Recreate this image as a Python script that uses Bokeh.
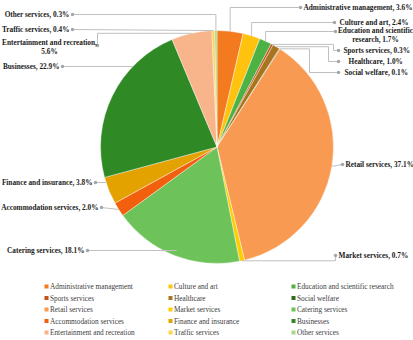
import math
from bokeh.plotting import figure
from bokeh.models import Range1d
from bokeh.core.properties import value
from bokeh.embed import file_html
from bokeh.resources import INLINE

# ---------------- data ----------------
categories = ["Administrative management", "Culture and art", "Education and scientific research",
              "Sports services", "Healthcare", "Social welfare", "Retail services", "Market services",
              "Catering services", "Accommodation services", "Finance and insurance", "Businesses",
              "Entertainment and recreation", "Traffic services", "Other services"]
shares = [3.6, 2.4, 1.7, 0.3, 1.0, 0.1, 37.1, 0.7, 18.1, 2.0, 3.8, 22.9, 5.6, 0.4, 0.3]
colors = ["#F47A20", "#FFC20E", "#4DB244", "#C4501C", "#A8741E", "#2C6E1E", "#F99A52", "#FFCC00",
          "#6DC35A", "#F2600E", "#E3A200", "#2F8A26", "#F8B48A", "#FFD550", "#A4DA8A"]

# ---------------- layout (page pixel coords) ----------------
CX, CY, R = 216.5, 146.5, 116.5
W, H = 413, 340
FONT = value("Liberation Serif")

label_layout = {
    0:  dict(dot=(300, 7),   tx=303, align="left",   lines=None, mode="mid", elbow=[("sx", 7)]),
    1:  dict(dot=(334, 22),  tx=339, align="left",   lines=None, mode="mid", elbow=[("sx", 22)]),
    2:  dict(dot=(335, 31),  tx=375, align="center", lines=[("Education and scientific", 30), ("research, {v}%", 39)], mode="mid", elbow=[("sx", 31)]),
    3:  dict(dot=(338, 50),  tx=343, align="left",   lines=None, mode="mid", elbow=[(333, "sy"), (333, 50)]),
    4:  dict(dot=(338, 61),  tx=348, align="left",   lines=None, mode="mid", elbow=[(328, "sy"), (328, 61)]),
    5:  dict(dot=(338, 72),  tx=344, align="left",   lines=None, mode="mid", elbow=[(309, "sy"), (309, 72)]),
    6:  dict(dot=(342, 164), tx=345, align="left",   lines=None, mode="mid", elbow=[]),
    7:  dict(dot=(335, 255), tx=338, align="left",   lines=None, mode="mid", elbow=[(335, "sy")]),
    8:  dict(dot=(87, 250),  tx=84,  align="right",  lines=None, mode="ray", elbow=[]),
    9:  dict(dot=(101, 207), tx=98,  align="right",  lines=None, mode="mid", elbow=[]),
    10: dict(dot=(95, 182),  tx=92,  align="right",  lines=None, mode="y", elbow=[]),
    11: dict(dot=(62, 66),   tx=59,  align="right",  lines=None, mode="y", elbow=[]),
    12: dict(dot=(97, 45),   tx=49,  align="center", lines=[("Entertainment and recreation,", 42), ("{v}%", 51)], mode="mid", elbow=[(97, "sy")]),
    13: dict(dot=(72, 29),   tx=69,  align="right",  lines=None, mode="mid", elbow=[]),
    14: dict(dot=(72, 14),   tx=69,  align="right",  lines=None, mode="mid", elbow=[("sx", 14)]),
}

legend_cols_x = [46, 170, 293]
legend_rows_y = [286, 297.5, 309, 320.5, 332]

# ---------------- figure ----------------
p = figure(width=W, height=H, x_range=Range1d(0, W), y_range=Range1d(-H, 0),
           output_backend="svg", toolbar_location=None, min_border=0,
           x_axis_location=None, y_axis_location=None)
p.grid.visible = False
p.outline_line_color = None
p.background_fill_color = "white"
p.border_fill_color = "white"

total = sum(shares)
cum = 0.0
starts, ends, mids = [], [], []
for s in shares:
    a0 = cum / total * 2 * math.pi
    cum += s
    a1 = cum / total * 2 * math.pi
    starts.append(math.pi / 2 - a0)
    ends.append(math.pi / 2 - a1)
    mids.append((a0 + a1) / 2)  # clockwise from top

p.wedge(x=[CX] * len(shares), y=[-CY] * len(shares), radius=R,
        start_angle=starts, end_angle=ends, direction="clock",
        fill_color=colors, line_color="white", line_width=0.4)

xs, ys, dx, dy = [], [], [], []
groups = {"left": ([], [], []), "right": ([], [], []), "center": ([], [], [])}
for i, lay in label_layout.items():
    th = mids[i]
    dxp, dyp = lay["dot"]
    if lay["mode"] == "mid":
        sx, sy = CX + R * math.sin(th), CY - R * math.cos(th)
    elif lay["mode"] == "y":
        h = math.sqrt(max(R * R - (dyp - CY) ** 2, 0))
        sx = CX - h if dxp < CX else CX + h
        sy = dyp
    else:  # ray
        t = (dyp - CY) / (-math.cos(th))
        sx, sy = CX + t * math.sin(th), dyp
    pts = [(sx, sy)]
    for ex, ey in lay["elbow"]:
        pts.append((sx if ex == "sx" else ex, sy if ey == "sy" else ey))
    pts.append((dxp, dyp))
    xs.append([q[0] for q in pts])
    ys.append([-q[1] for q in pts])
    dx.append(dxp)
    dy.append(-dyp)
    v = f"{shares[i]:.1f}"
    if lay["lines"] is None:
        entries = [(f"{categories[i]}, {v}%", dyp)]
    else:
        entries = [(t.format(v=v), yy) for t, yy in lay["lines"]]
    for t, yy in entries:
        g = groups[lay["align"]]
        g[0].append(lay["tx"])
        g[1].append(-yy)
        g[2].append(t)

p.multi_line(xs, ys, line_color="#C0C0C0", line_width=1)
p.scatter(dx, dy, size=3.5, marker="circle", fill_color="#A6A6A6", line_color=None)

for align, (gx, gy, gt) in groups.items():
    if gx:
        p.text(gx, gy, text=gt, text_font=FONT, text_font_size="7.3px", text_font_style="bold",
               text_align=align, text_baseline="middle", text_color="#1a1a1a")

lx, ly, lt, lc = [], [], [], []
for i, name in enumerate(categories):
    r, c = divmod(i, 3)
    lx.append(legend_cols_x[c])
    ly.append(-legend_rows_y[r])
    lt.append(name)
    lc.append(colors[i])
p.scatter(lx, ly, size=4, marker="square", fill_color=lc, line_color=None)
p.text([x + 3.5 for x in lx], ly, text=lt, text_font=FONT, text_font_size="7.3px",
       text_align="left", text_baseline="middle", text_color="#404040")

open("out.html", "w").write(file_html(p, INLINE))
